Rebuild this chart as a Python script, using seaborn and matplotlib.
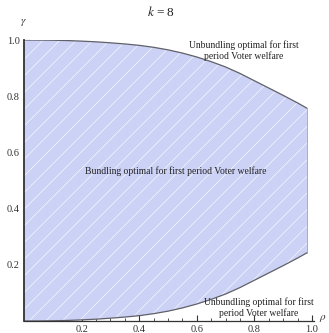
import matplotlib
matplotlib.use("Agg")
import matplotlib.pyplot as plt
import seaborn as sns
import pandas as pd
import numpy as np

# Data
rho = [0.0, 0.05, 0.1, 0.15, 0.2, 0.25, 0.3, 0.35, 0.4, 0.45, 0.5,
       0.55, 0.6, 0.65, 0.7, 0.75, 0.8, 0.85, 0.9, 0.95, 0.983]
lower_boundary = [0.0, 0.0002, 0.0008, 0.002, 0.004, 0.0065, 0.010, 0.014, 0.019, 0.026, 0.035,
                  0.0465, 0.0605, 0.077, 0.096, 0.119, 0.145, 0.171, 0.197, 0.224, 0.243]
upper_boundary = [1.0, 0.9998, 0.9992, 0.998, 0.996, 0.9935, 0.990, 0.986, 0.981, 0.974, 0.965,
                  0.9535, 0.9395, 0.923, 0.904, 0.881, 0.855, 0.829, 0.803, 0.776, 0.757]

x_ticks = [0.2, 0.4, 0.6, 0.8, 1.0]
y_ticks = [0.2, 0.4, 0.6, 0.8, 1.0]
title_text = "$k$ = 8"
label_unbundle = "Unbundling optimal for first\nperiod Voter welfare"
label_bundle = "Bundling optimal for first period Voter welfare"

sns.set_theme(style="white")
plt.rcParams["font.family"] = ["Liberation Serif", "DejaVu Serif"]
plt.rcParams["mathtext.fontset"] = "stix"
plt.rcParams["hatch.color"] = "#dfe3f9"
plt.rcParams["hatch.linewidth"] = 0.4

W, H = 329, 333
fig = plt.figure(figsize=(W / 100, H / 100), dpi=100)
x0, x1 = 24, 314
y0, y1 = 321, 40
ax = fig.add_axes([x0 / W, 1 - y0 / H, (x1 - x0) / W, (y0 - y1) / H])

df = pd.DataFrame({"rho": rho, "lower": lower_boundary, "upper": upper_boundary})
fill_color = "#ccd2f5"
ax.fill_between(df["rho"], df["lower"], df["upper"], facecolor=fill_color, linewidth=0,
                hatch="//", zorder=1)
sns.lineplot(data=df, x="rho", y="upper", ax=ax, color="#606068", linewidth=0.9, zorder=2)
sns.lineplot(data=df, x="rho", y="lower", ax=ax, color="#606068", linewidth=0.9, zorder=2)
ax.plot([rho[-1], rho[-1]], [lower_boundary[-1], upper_boundary[-1]], color="#a0a0b8",
        linewidth=0.6, zorder=2)

ax.set_xlim(0, 1.0 * (x1 - x0) / 288)
ax.set_ylim(0, 1.0)
ax.set_xlabel("")
ax.set_ylabel("")

for s in ["top", "right"]:
    ax.spines[s].set_visible(False)
for s in ["left", "bottom"]:
    ax.spines[s].set_color("#333333")
    ax.spines[s].set_linewidth(0.9)
ax.spines["left"].set_linewidth(1.3)

ax.set_xticks(x_ticks)
ax.set_xticklabels([f"{v:.1f}" for v in x_ticks])
ax.set_yticks(y_ticks)
ax.set_yticklabels([f"{v:.1f}" for v in y_ticks])
ax.set_xticks(np.arange(0.05, 1.0, 0.05), minor=True)
ax.set_yticks(np.arange(0.05, 1.0, 0.05), minor=True)
ax.tick_params(which="major", direction="in", length=4, width=0.8, color="#333333",
               labelsize=7.5, labelcolor="#333333", pad=3)
ax.tick_params(which="minor", direction="in", length=2, width=0.6, color="#333333")
ax.tick_params(axis="x", which="both", bottom=True)
ax.tick_params(axis="y", which="both", left=True)

ax.text(0.764, 0.962, label_unbundle, ha="center", va="center", fontsize=6.9,
        color="#222222", linespacing=1.2, clip_on=False)
ax.text(0.816, 0.047, label_unbundle, ha="center", va="center", fontsize=6.9,
        color="#222222", linespacing=1.1)
ax.text(0.526, 0.535, label_bundle, ha="center", va="center", fontsize=6.9, color="#222222")

fig.text(161 / W, 1 - 12 / H, title_text, ha="center", va="center", fontsize=9.5, color="#222222")
fig.text(23 / W, 1 - 23 / H, r"$\gamma$", ha="center", va="center", fontsize=8, color="#333333")
fig.text(323 / W, 1 - 319 / H, r"$\rho$", ha="center", va="center", fontsize=8, color="#333333")

fig.savefig("out.png", dpi=100, facecolor="white")
